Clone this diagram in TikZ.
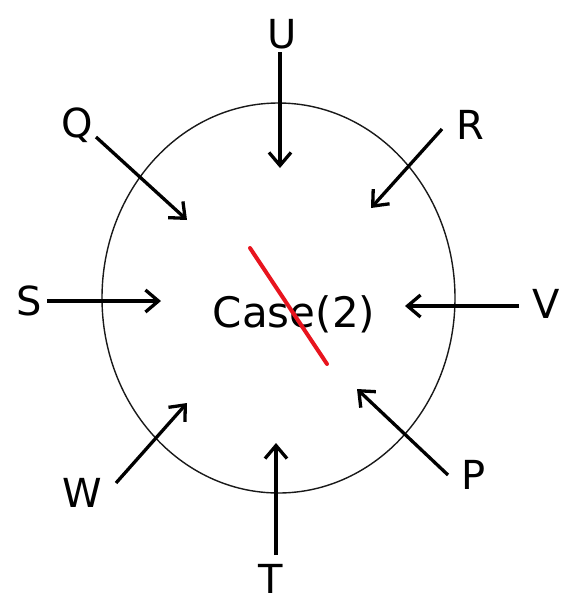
\documentclass[tikz,border=0pt]{standalone}
\usepackage{fontspec}
\setmainfont{DejaVu Sans}
\usetikzlibrary{arrows.meta}
\definecolor{strike}{RGB}{232,20,30}
\begin{document}
\begin{tikzpicture}[x=1pt,y=-1pt,
  lbl/.style={inner sep=0pt,font=\fontsize{40}{48}\selectfont},
  inarrow/.style={line width=3.3pt,-{Straight Barb[length=13pt,width=22pt,line width=3.3pt]}},
  ring/.style={line width=1.4pt,draw=black!90}]
\useasboundingbox (0,0) rectangle (567,603);
\fill[white] (0,0) rectangle (567,603);
% circle
\draw[ring] (278.5,298) ellipse [x radius=176.5pt, y radius=195pt];
% centre text
\node[lbl,anchor=base,font=\fontsize{42}{50}\selectfont] (case) at (294,327) {Case(2)};
\draw[line width=4pt,strike,line cap=round] (250,248) coordinate (ra) -- (327,364) coordinate (rb);
% labels
\node[lbl] (U) at (282,34) {U};
\node[lbl] (T) at (271,579) {T};
\node[lbl] (S) at (29,301) {S};
\node[lbl] (V) at (546,304) {V};
\node[lbl] (Q) at (77,125) {Q};
\node[lbl] (R) at (470,125) {R};
\node[lbl] (W) at (82,493) {W};
\node[lbl] (P) at (474,475) {P};
% arrow endpoints
\coordinate (u1) at (280,52);  \coordinate (u2) at (280,168);
\coordinate (t1) at (276,555); \coordinate (t2) at (276,443);
\coordinate (s1) at (47,301);  \coordinate (s2) at (161,301);
\coordinate (v1) at (519,306); \coordinate (v2) at (405,306);
\coordinate (q1) at (96,137);  \coordinate (q2) at (187,220);
\coordinate (r1) at (442,129); \coordinate (r2) at (371,208);
\coordinate (w1) at (116,483); \coordinate (w2) at (187,403);
\coordinate (p1) at (448,475); \coordinate (p2) at (357,389);
\draw[inarrow] (u1) -- (u2);
\draw[inarrow] (t1) -- (t2);
\draw[inarrow] (s1) -- (s2);
\draw[inarrow] (v1) -- (v2);
\draw[inarrow] (q1) -- (q2);
\draw[inarrow] (r1) -- (r2);
\draw[inarrow] (w1) -- (w2);
\draw[inarrow] (p1) -- (p2);
\end{tikzpicture}
\end{document}
